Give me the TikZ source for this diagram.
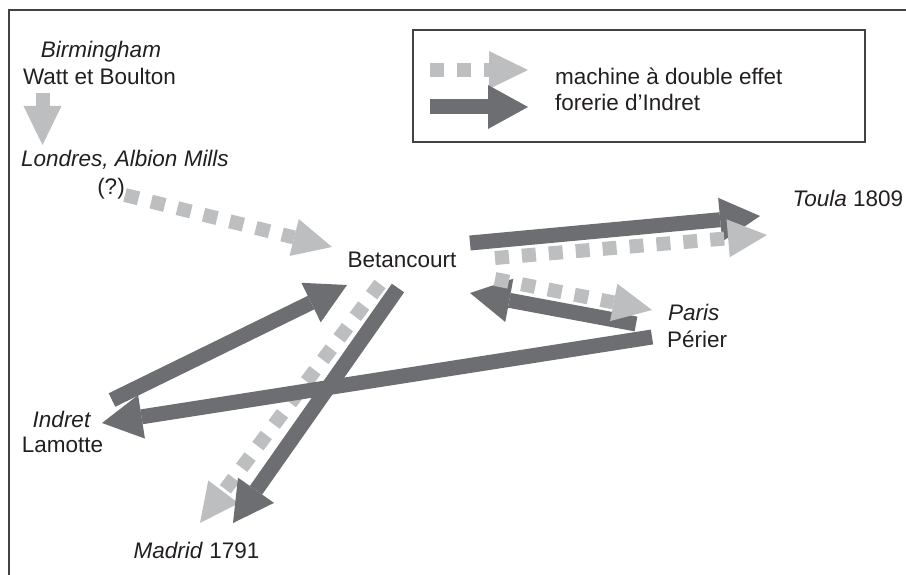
\documentclass[tikz,border=0pt]{standalone}
\usepackage{fontspec}
\setmainfont{Liberation Sans}
\usetikzlibrary{arrows.meta}
\definecolor{ink}{HTML}{231F20}
\definecolor{darkgrey}{HTML}{6D6E71}
\definecolor{lightgrey}{HTML}{BCBEC0}
\tikzset{
  lbl/.style={anchor=base, inner sep=0pt, text=ink},
  frame/.style={draw=ink!85, line width=1.5pt},
  forage/.style={draw=darkgrey, line width=15pt, line cap=butt,
    -{Triangle[length=40pt,width=44pt,line width=0pt]}},
  effet/.style={draw=lightgrey, line width=14pt, line cap=butt,
    dash pattern=on 14pt off 13pt,
    -{Triangle[length=39pt,width=38pt,line width=0pt]}}
}
\begin{document}
\begin{tikzpicture}[x=1pt,y=-1pt,font=\fontsize{22.5}{27}\selectfont]
\useasboundingbox (0,0) rectangle (906,575);
\draw[frame] (9,575) -- (9,10) -- (906,10);
\draw[frame] (413,30) rectangle (865,142);
% places
\node[lbl] (birm) at (101,58) {\itshape Birmingham};
\node[lbl] (watt) at (99.5,85) {Watt et Boulton};
\node[lbl] (lond) at (125,167) {\itshape Londres, Albion Mills};
\node[lbl] (doute) at (111,195) {(?)};
\node[lbl] (bet) at (402,268) {Betancourt};
\node[lbl] (toula) at (848,207) {\itshape Toula\/\upshape{} 1809};
\node[lbl,anchor=base west] (paris) at (668,320) {\itshape Paris};
\node[lbl,anchor=base west] (perier) at (667,347) {Périer};
\node[lbl] (indret) at (61.5,427) {\itshape Indret};
\node[lbl] (lamotte) at (62.5,452) {Lamotte};
\node[lbl] (madrid) at (196.5,558) {\itshape Madrid\/\upshape{} 1791};
% legend
\node[lbl,anchor=base west] (legA) at (555,85) {machine à double effet};
\node[lbl,anchor=base west] (legB) at (555,111) {forerie d’Indret};
\coordinate (legAs) at (430,70);
\coordinate (legAe) at (528,70);
\coordinate (legBs) at (430,107);
\coordinate (legBe) at (528,107);
\draw[effet] (legAs) -- (legAe);
\draw[forage] (legBs) -- (legBe);
% arrow ends
\coordinate (birmS) at (42.5,93);
\coordinate (birmE) at (42.5,145);
\coordinate (londS) at (125,195);
\coordinate (londE) at (332,247);
\coordinate (toulaDs) at (470,243);
\coordinate (toulaDe) at (760,216);
\coordinate (toulaLs) at (495,258);
\coordinate (toulaLe) at (767,235);
\coordinate (parisLs) at (495,279);
\coordinate (parisLe) at (652,310);
\coordinate (parisDs) at (636,324);
\coordinate (parisDe) at (470,293);
\coordinate (indretDs) at (652,337);
\coordinate (indretDe) at (102,423);
\coordinate (indretUs) at (112,400);
\coordinate (indretUe) at (347,285);
\coordinate (madridDs) at (398,288);
\coordinate (madridDe) at (233,523);
\coordinate (madridLs) at (380,284);
\coordinate (madridLe) at (200,523);
\draw[effet] (birmS) -- (birmE);
\draw[effet] (londS) -- (londE);
\draw[forage] (toulaDs) -- (toulaDe);
\draw[effet] (toulaLs) -- (toulaLe);
\draw[forage] (parisDs) -- (parisDe);
\draw[effet] (parisLs) -- (parisLe);
\draw[effet] (madridLs) -- (madridLe);
\draw[forage] (madridDs) -- (madridDe);
\draw[forage] (indretUs) -- (indretUe);
\draw[forage] (indretDs) -- (indretDe);
\end{tikzpicture}
\end{document}
